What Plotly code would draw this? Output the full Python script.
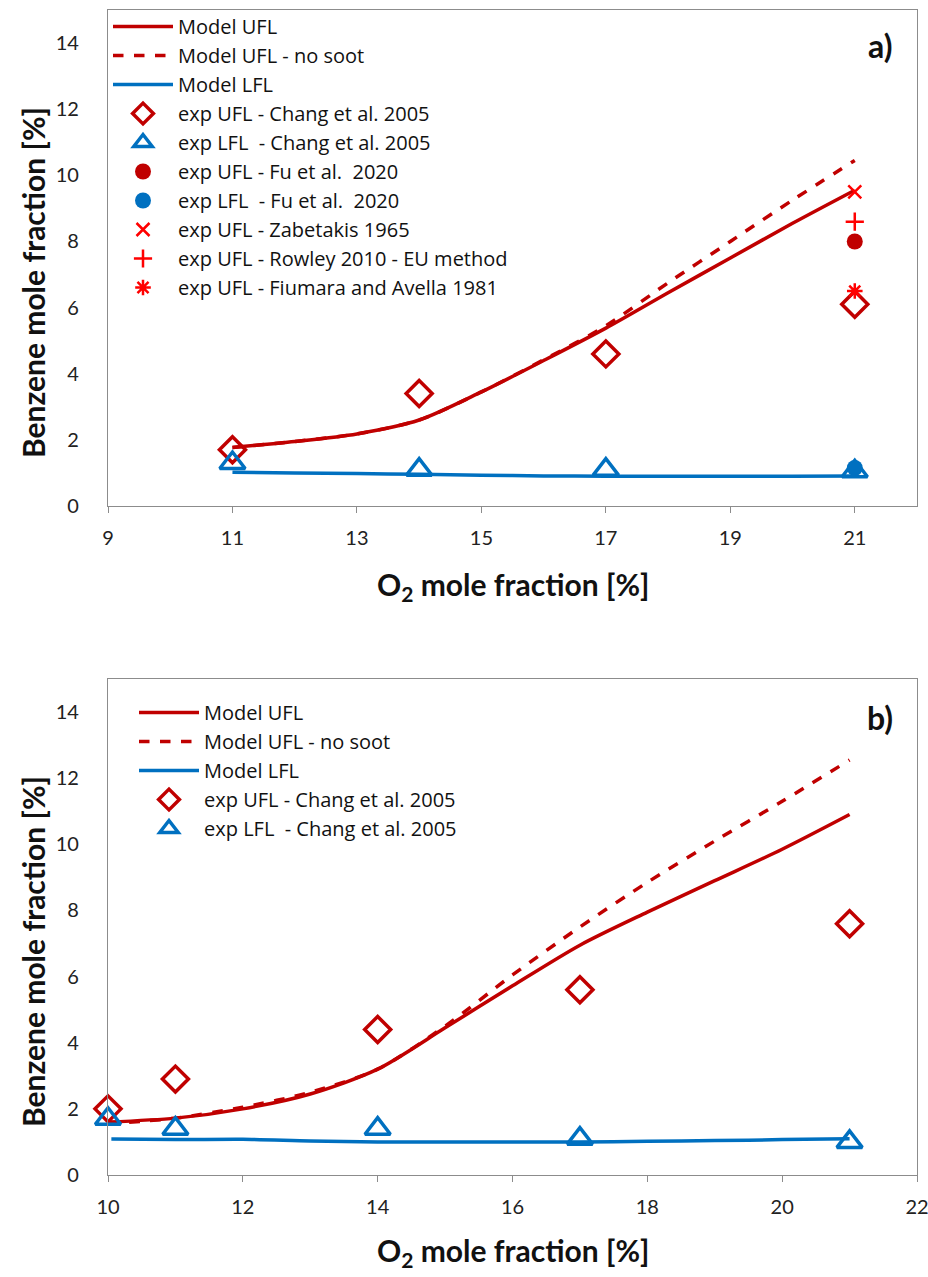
import plotly.graph_objects as go

W, H = 928, 1277

# ---- panel a) data ----
a_model_x = [11, 12, 13, 14, 15, 16, 17, 18, 19, 20, 21]
a_ufl = [1.77, 1.95, 2.18, 2.6, 3.45, 4.4, 5.38, 6.45, 7.5, 8.55, 9.55]
a_ufl_nosoot = [1.77, 1.95, 2.18, 2.6, 3.45, 4.42, 5.45, 6.75, 8.0, 9.25, 10.45]
a_lfl = [1.02, 1.0, 0.98, 0.96, 0.93, 0.91, 0.9, 0.9, 0.9, 0.9, 0.91]

a_exp_x = [11, 14, 17, 21]
a_chang_ufl = [1.7, 3.4, 4.6, 6.1]
a_chang_lfl = [1.3, 1.1, 1.1, 1.05]
a_fu_x = [21]
a_fu_ufl = [8.0]
a_fu_lfl = [1.15]
a_zab_ufl = [9.5]
a_rowley_ufl = [8.6]
a_fiumara_ufl = [6.5]

# ---- panel b) data ----
b_model_x = [10, 11, 12, 13, 14, 15, 16, 17, 18, 19, 20, 21]
b_ufl = [1.6, 1.72, 2.0, 2.45, 3.2, 4.45, 5.72, 6.95, 7.95, 8.9, 9.85, 10.9]
b_ufl_nosoot = [1.55, 1.72, 2.05, 2.5, 3.2, 4.5, 6.05, 7.5, 8.85, 10.1, 11.3, 12.55]
b_lfl_x = [10.05, 11, 12, 13, 14, 15, 16, 17, 18, 19, 20, 21]
b_lfl = [1.09, 1.07, 1.08, 1.03, 1.0, 1.0, 1.0, 1.0, 1.02, 1.04, 1.07, 1.1]

b_exp_x = [10, 11, 14, 17, 21]
b_chang_ufl = [2.0, 2.9, 4.4, 5.6, 7.6]
b_chang_lfl = [1.7, 1.4, 1.4, 1.1, 1.0]

DARK_RED = "#C00000"
BLUE = "#0070C0"
RED = "#FF0000"
FONT = "Lato"
LEGEND_FONT = "Open Sans"


def px_x(p):
    return p / W


def px_y(p):
    return 1 - p / H


fig = go.Figure()


def add_panel(xaxis, yaxis, legend, model_x, ufl, ufl_ns, lfl_x, lfl, exp_x, c_ufl, c_lfl, extra):
    ax = dict(xaxis=xaxis, yaxis=yaxis, legend=legend, cliponaxis=False)
    fig.add_trace(go.Scatter(x=model_x, y=ufl, mode="lines", name="Model UFL",
                             line=dict(color=DARK_RED, width=3.5, shape="spline", smoothing=0.8), **ax))
    fig.add_trace(go.Scatter(x=model_x, y=ufl_ns, mode="lines", name="Model UFL - no soot",
                             line=dict(color=DARK_RED, width=3.5, dash="dash", shape="spline", smoothing=0.8),
                             **ax))
    fig.add_trace(go.Scatter(x=lfl_x, y=lfl, mode="lines", name="Model LFL",
                             line=dict(color=BLUE, width=3.5, shape="spline", smoothing=0.8), **ax))
    fig.add_trace(go.Scatter(x=exp_x, y=c_ufl, mode="markers", name="exp UFL - Chang et al. 2005",
                             marker=dict(symbol="diamond-open", size=20, color=DARK_RED,
                                         line=dict(width=3.5, color=DARK_RED)), **ax))
    fig.add_trace(go.Scatter(x=exp_x, y=c_lfl, mode="markers", name="exp LFL  - Chang et al. 2005",
                             marker=dict(symbol="triangle-up-open", size=22, color=BLUE,
                                         line=dict(width=3.5, color=BLUE)), **ax))
    if extra:
        fig.add_trace(go.Scatter(x=a_fu_x, y=a_fu_ufl, mode="markers", name="exp UFL - Fu et al.  2020",
                                 marker=dict(symbol="circle", size=16, color=DARK_RED), **ax))
        fig.add_trace(go.Scatter(x=a_fu_x, y=a_fu_lfl, mode="markers", name="exp LFL  - Fu et al.  2020",
                                 marker=dict(symbol="circle", size=16, color=BLUE), **ax))
        fig.add_trace(go.Scatter(x=a_fu_x, y=a_zab_ufl, mode="markers", name="exp UFL - Zabetakis 1965",
                                 marker=dict(symbol="x-thin", size=13, color=RED,
                                             line=dict(width=2.5, color=RED)), **ax))
        fig.add_trace(go.Scatter(x=a_fu_x, y=a_rowley_ufl, mode="markers", name="exp UFL - Rowley 2010 - EU method",
                                 marker=dict(symbol="cross-thin", size=13, color=RED,
                                             line=dict(width=2.5, color=RED)), **ax))
        fig.add_trace(go.Scatter(x=a_fu_x, y=a_fiumara_ufl, mode="markers", name="exp UFL - Fiumara and Avella 1981",
                                 marker=dict(symbol="asterisk", size=13, color=RED,
                                             line=dict(width=2.5, color=RED)), **ax))


add_panel("x", "y", "legend", a_model_x, a_ufl, a_ufl_nosoot, a_model_x, a_lfl,
          a_exp_x, a_chang_ufl, a_chang_lfl, True)
add_panel("x2", "y2", "legend2", b_model_x, b_ufl, b_ufl_nosoot, b_lfl_x, b_lfl,
          b_exp_x, b_chang_ufl, b_chang_lfl, False)

tick_font = dict(family=FONT, size=20, color="#222222")
common_x = dict(showgrid=False, zeroline=False, showline=True, linecolor="#8c8c8c", linewidth=1.3,
                mirror=True, ticks="outside", ticklen=6, tickcolor="#8c8c8c", tickfont=tick_font,
                ticklabelstandoff=8, ticklabeloverflow="allow", automargin=False)
common_y = dict(showgrid=False, zeroline=False, showline=True, linecolor="#8c8c8c", linewidth=1.3,
                mirror=True, ticks="", tickfont=tick_font, range=[0, 15],
                tickvals=[0, 2, 4, 6, 8, 10, 12, 14], ticklabelstandoff=24, automargin=False)

legend_font = dict(family=LEGEND_FONT, size=20, color="#111111")
fig.update_layout(
    width=W, height=H, margin=dict(l=0, r=0, t=0, b=0, autoexpand=False),
    paper_bgcolor="white", plot_bgcolor="white",
    font=dict(family=FONT, color="#111111"),
    xaxis=dict(domain=[px_x(108), px_x(917)], range=[9, 22], tickvals=[9, 11, 13, 15, 17, 19, 21],
               anchor="y", **common_x),
    yaxis=dict(domain=[px_y(506), px_y(10)], anchor="x", **common_y),
    xaxis2=dict(domain=[px_x(108), px_x(917)], range=[10, 22], tickvals=[10, 12, 14, 16, 18, 20, 22],
                anchor="y2", **common_x),
    yaxis2=dict(domain=[px_y(1175), px_y(679)], anchor="x2", **common_y),
    legend=dict(x=px_x(108), y=px_y(7), xanchor="left", yanchor="top", bgcolor="rgba(0,0,0,0)",
                font=legend_font, tracegroupgap=0, itemwidth=60),
    legend2=dict(x=px_x(134), y=px_y(693), xanchor="left", yanchor="top", bgcolor="rgba(0,0,0,0)",
                 font=legend_font, tracegroupgap=0, itemwidth=60),
)

title_font = dict(family=FONT, size=30, color="#111111")
annotations = [
    dict(text="<b>Benzene mole fraction [%]</b>", x=px_x(33), y=px_y(283), textangle=-90, font=title_font),
    dict(text="<b>O<sub>2</sub> mole fraction [%]</b>", x=px_x(513), y=px_y(586), font=title_font),
    dict(text="<b>Benzene mole fraction [%]</b>", x=px_x(33), y=px_y(952), textangle=-90, font=title_font),
    dict(text="<b>O<sub>2</sub> mole fraction [%]</b>", x=px_x(513), y=px_y(1252), font=title_font),
    dict(text="<b>a)</b>", x=px_x(880), y=px_y(45), font=dict(family=FONT, size=32, color="#111111")),
    dict(text="<b>b)</b>", x=px_x(880), y=px_y(717), font=dict(family=FONT, size=32, color="#111111")),
]
for a in annotations:
    a.update(xref="paper", yref="paper", showarrow=False, xanchor="center", yanchor="middle")
fig.update_layout(annotations=annotations)

fig.write_html("out.html")
